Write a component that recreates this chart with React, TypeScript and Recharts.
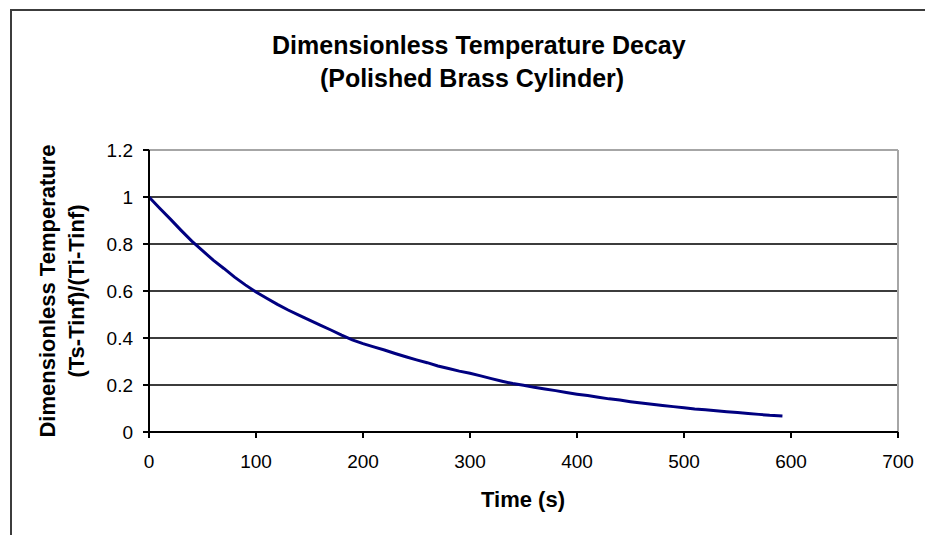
import { LineChart, Line, XAxis, YAxis, ReferenceLine } from "recharts";

// time in seconds
const times = [
  0, 10, 20, 30, 40, 50, 60, 70, 80, 90,
  100, 110, 120, 130, 140, 150, 160, 170, 180, 190,
  200, 210, 220, 230, 240, 250, 260, 270, 280, 290,
  300, 310, 320, 330, 340, 350, 360, 370, 380, 390,
  400, 410, 420, 430, 440, 450, 460, 470, 480, 490,
  500, 510, 520, 530, 540, 550, 560, 570, 580, 592,
];

// (Ts-Tinf)/(Ti-Tinf)
const theta = [
  1.0, 0.952, 0.906, 0.858, 0.812, 0.772, 0.731, 0.696, 0.659, 0.626,
  0.596, 0.569, 0.543, 0.519, 0.497, 0.476, 0.455, 0.434, 0.412, 0.392,
  0.376, 0.362, 0.349, 0.334, 0.32, 0.307, 0.295, 0.281, 0.27, 0.259,
  0.25, 0.239, 0.227, 0.216, 0.206, 0.199, 0.19, 0.183, 0.176, 0.168,
  0.161, 0.155, 0.148, 0.141, 0.136, 0.129, 0.123, 0.118, 0.113, 0.108,
  0.103, 0.098, 0.095, 0.09, 0.086, 0.083, 0.079, 0.075, 0.071, 0.068,
];

const xTicks = [0, 100, 200, 300, 400, 500, 600, 700];
const yTicks = [0, 0.2, 0.4, 0.6, 0.8, 1, 1.2];
const gridValues = [0.2, 0.4, 0.6, 0.8, 1];

const data = times.map((t, i) => ({ t, theta: theta[i] }));

const font = '"Liberation Sans", Arial, sans-serif';
const tickStyle = { fontSize: 19, fill: "#000", fontFamily: font };

export default function App() {
  return (
    <div style={{ position: "absolute", left: 0, top: 0, width: 925, height: 535, overflow: "hidden", background: "#fff", fontFamily: font }}>
      <div style={{ position: "absolute", left: 10, top: 9, width: 1000, height: 1000, borderTop: "2px solid #3c3c3c", borderLeft: "2px solid #3c3c3c" }} />
      <div style={{ position: "absolute", left: 272, width: 400, top: 29, textAlign: "center", fontSize: 25, fontWeight: "bold", lineHeight: "33px", color: "#000" }}>
        <div style={{ whiteSpace: "nowrap" }}>Dimensionless Temperature Decay</div>
        <div style={{ whiteSpace: "nowrap" }}>(Polished Brass Cylinder)</div>
      </div>
      <div
        style={{
          position: "absolute", left: 62 - 200, top: 291 - 29, width: 400, height: 58,
          transform: "rotate(-90deg)", textAlign: "center", fontSize: 22, fontWeight: "bold", lineHeight: "29px", color: "#000",
        }}
      >
        <div style={{ whiteSpace: "nowrap" }}>Dimensionless Temperature</div>
        <div style={{ whiteSpace: "nowrap" }}>(Ts-Tinf)/(Ti-Tinf)</div>
      </div>
      <div style={{ position: "absolute", left: 423, width: 200, top: 487, textAlign: "center", fontSize: 22, fontWeight: "bold", color: "#000" }}>
        Time (s)
      </div>
      <LineChart width={925} height={535} data={data} margin={{ top: 150, right: 27, bottom: 0, left: 0 }} style={{ position: "absolute", left: 0, top: 0 }}>
        {gridValues.map((v) => (
          <ReferenceLine key={v} y={v} stroke="#3c3c3c" strokeWidth={2} />
        ))}
        <ReferenceLine y={1.2} stroke="#a6a6a6" strokeWidth={2} />
        <ReferenceLine x={700} stroke="#a6a6a6" strokeWidth={2} />
        <XAxis
          dataKey="t" type="number" domain={[0, 700]} ticks={xTicks} height={103}
          axisLine={{ stroke: "#000", strokeWidth: 2 }} tickLine={{ stroke: "#000", strokeWidth: 2 }}
          tickSize={6} tickMargin={17} tick={tickStyle} interval={0}
        />
        <YAxis
          type="number" domain={[0, 1.2]} ticks={yTicks} width={149}
          axisLine={{ stroke: "#000", strokeWidth: 2 }} tickLine={{ stroke: "#000", strokeWidth: 2 }}
          tickSize={6} tickMargin={10} tick={tickStyle} interval={0}
          tickFormatter={(v: number) => String(v)}
        />
        <Line type="linear" dataKey="theta" stroke="#000080" strokeWidth={3} dot={false} activeDot={false} isAnimationActive={false} />
      </LineChart>
    </div>
  );
}
